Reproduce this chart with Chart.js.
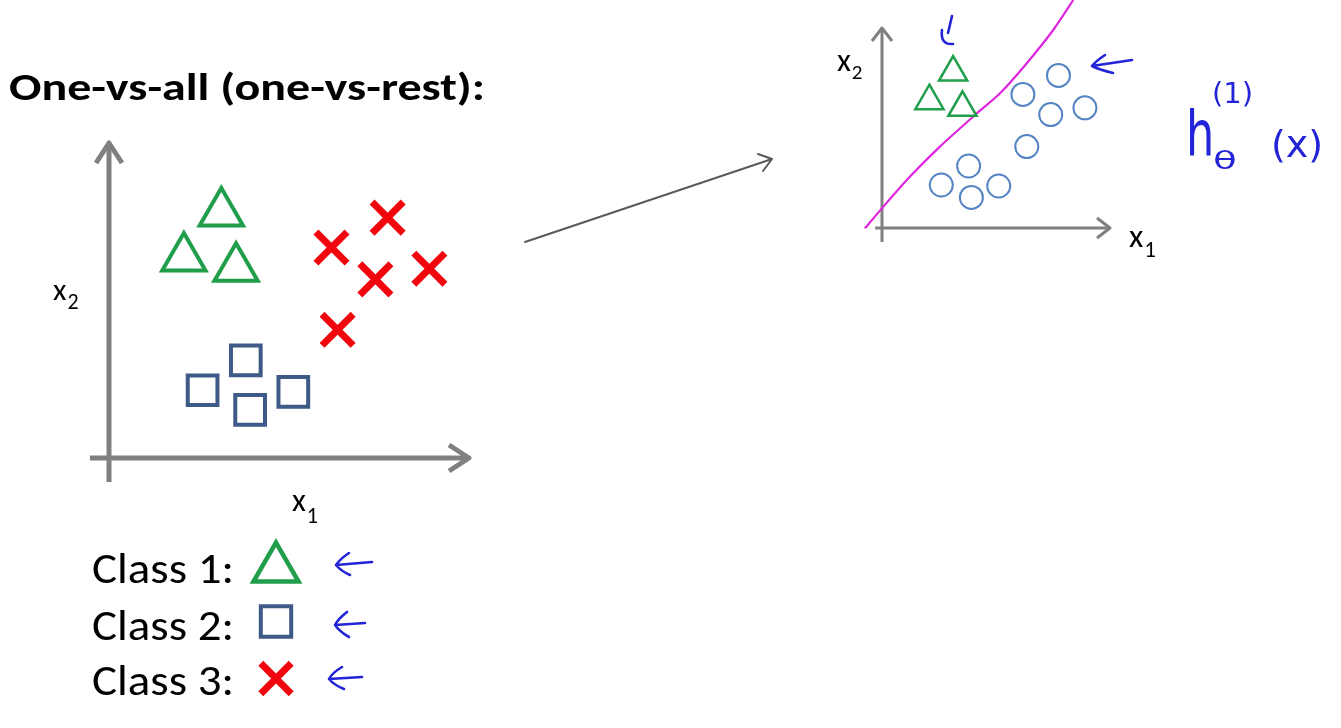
<!DOCTYPE html>
<html><head><meta charset="utf-8">
<script src="https://cdn.jsdelivr.net/npm/chart.js@4/dist/chart.umd.min.js"></script>
<style>
html,body{margin:0;padding:0;background:#fff;overflow:hidden}
#wrap{position:relative;width:1341px;height:728px;background:#fff}
#c{position:absolute;left:0;top:0}
#t{position:absolute;left:0;top:0}
</style></head><body>
<div id="wrap">
<canvas id="c" width="1341" height="728"></canvas>
<svg id="t" width="1341" height="728" xmlns="http://www.w3.org/2000/svg">
  <text x="9" y="100" font-family="Carlito, Lato" font-weight="bold" font-size="38" fill="#000" textLength="476" lengthAdjust="spacingAndGlyphs">One-vs-all (one-vs-rest):</text>
  <text x="53" y="300" font-family="Carlito, Lato" font-size="31" fill="#000">x<tspan dy="9" dx="1" font-size="22">2</tspan></text>
  <text x="292" y="511" font-family="Carlito, Lato" font-size="32" fill="#000">x<tspan dy="12" dx="1" font-size="22">1</tspan></text>
  <text x="837" y="71" font-family="Carlito, Lato" font-size="32" fill="#000">x<tspan dy="8" dx="1" font-size="21">2</tspan></text>
  <text x="1129" y="247" font-family="Carlito, Lato" font-size="33" fill="#000">x<tspan dy="10" dx="1" font-size="23">1</tspan></text>
  <g id="legendText" font-family="Carlito, Lato" font-size="44" fill="#000"></g>
  <g font-family="DejaVu Sans" fill="rgb(35,35,215)">
    <text transform="translate(1186,155) scale(0.72,1)" font-size="62">h</text>
    <text transform="translate(1213,169) scale(1.3,0.85)" font-size="30">θ</text>
    <text x="1212" y="103" font-size="29">(1)</text>
    <text x="1271" y="157" font-size="38">(x)</text>
  </g>
</svg>
</div>
<script>
// ---- data (arbitrary feature units; origin at the axes' crossing) ----
const classLabels = ['Class 1:', 'Class 2:', 'Class 3:'];
const class1X = [3.12, 2.08, 3.53];
const class1Y = [7.78, 6.35, 6.02];
const class2X = [3.80, 2.60, 3.92, 5.12];
const class2Y = [3.10, 2.15, 1.53, 2.10];
const class3X = [7.74, 6.18, 7.40, 8.90, 6.35];
const class3Y = [7.63, 6.68, 5.67, 6.01, 4.07];
const boundaryX = [-0.75, 0.06, 1.23, 2.54, 4.08, 5.18, 6.35, 7.51, 8.39];
const boundaryY = [-0.02, 1.07, 2.57, 4.07, 5.65, 6.74, 8.24, 9.90, 11.40];

const pts = (xs, ys) => xs.map((v, i) => ({x: v, y: ys[i]}));

// ---- layout (pixel origin and pixels per unit for each panel) ----
const W = 1341, H = 728;
const L = {ox: 109, oy: 458, ux: 36, uy: 31.5};
const R = {ox: 882, oy: 228, ux: 22.8, uy: 20};

const GREEN = 'rgb(32,158,74)', NAVY = 'rgb(62,90,135)', RED = 'rgb(240,6,12)';
const LBLUE = 'rgb(84,132,194)', MAGENTA = 'rgb(222,38,222)', GRAY = '#808080';
const PEN = 'rgb(35,35,215)';

const none = 'rgba(0,0,0,0)';
function ds(label, data, style, color, r, bw, xa, ya) {
  return {label, data, xAxisID: xa, yAxisID: ya, showLine: false, clip: false,
    pointStyle: style, pointRadius: r, pointHoverRadius: r,
    pointBorderColor: color, pointBackgroundColor: none, pointBorderWidth: bw,
    borderColor: color, backgroundColor: none};
}

const datasets = [
  ds(classLabels[0], pts(class1X, class1Y), 'triangle', GREEN, 25, 4, 'x', 'y'),
  ds(classLabels[1], pts(class2X, class2Y), 'rect', NAVY, 21, 4, 'x', 'y'),
  ds(classLabels[2], pts(class3X, class3Y), 'crossRot', RED, 22, 7, 'x', 'y'),
  ds('class 1', pts(class1X, class1Y), 'triangle', GREEN, 16.3, 2.5, 'x2', 'y2'),
  ds('rest', pts(class2X.concat(class3X), class2Y.concat(class3Y)), 'circle', LBLUE, 11.5, 2, 'x2', 'y2'),
  {label: 'boundary', data: pts(boundaryX, boundaryY), xAxisID: 'x2', yAxisID: 'y2',
   showLine: true, borderColor: MAGENTA, borderWidth: 2.2, pointRadius: 0, tension: 0.2, fill: false}
];

function axisArrows(ctx, xs, ys, o) {
  const px0 = xs.getPixelForValue(0), py0 = ys.getPixelForValue(0);
  const xa = xs.getPixelForValue(o.x0), xb = xs.getPixelForValue(o.x1);
  const ya = ys.getPixelForValue(o.y0), yb = ys.getPixelForValue(o.y1);
  ctx.save();
  ctx.strokeStyle = GRAY; ctx.lineWidth = o.w; ctx.lineJoin = 'round'; ctx.lineCap = 'butt';
  ctx.beginPath();
  ctx.moveTo(px0, ya); ctx.lineTo(px0, yb);
  ctx.moveTo(xa, py0); ctx.lineTo(xb, py0);
  ctx.stroke();
  ctx.beginPath();
  ctx.moveTo(px0 - o.side, yb + o.back); ctx.lineTo(px0, yb); ctx.lineTo(px0 + o.side, yb + o.back);
  ctx.moveTo(xb - o.back, py0 - o.side); ctx.lineTo(xb, py0); ctx.lineTo(xb - o.back, py0 + o.side);
  ctx.stroke();
  ctx.restore();
}

function penArrow(ctx, tail, tip, up, low, ctrlUp, ctrlLow) {
  ctx.beginPath();
  ctx.moveTo(tail[0], tail[1]); ctx.lineTo(tip[0], tip[1]);
  ctx.moveTo(up[0], up[1]); ctx.quadraticCurveTo(ctrlUp[0], ctrlUp[1], tip[0], tip[1]);
  ctx.quadraticCurveTo(ctrlLow[0], ctrlLow[1], low[0], low[1]);
  ctx.stroke();
}

const deco = {
  id: 'deco',
  beforeDatasetsDraw(chart) {
    const ctx = chart.ctx, s = chart.scales;
    axisArrows(ctx, s.x, s.y, {x0: -0.53, x1: 10, y0: -0.76, y1: 10, w: 5, back: 20, side: 13});
    axisArrows(ctx, s.x2, s.y2, {x0: -0.3, x1: 10, y0: -0.7, y1: 10, w: 3, back: 13, side: 10});
  },
  afterDatasetsDraw(chart) {
    const ctx = chart.ctx;
    // legend markers drawn with the datasets' own point styles
    const rows = [568.5, 621.5, 678.5];
    const radii = [26, 21.5, 21.5];
    for (let i = 0; i < 3; i++) {
      const d = chart.data.datasets[i];
      ctx.save();
      ctx.strokeStyle = d.pointBorderColor; ctx.fillStyle = none;
      ctx.lineWidth = i === 0 ? 4.5 : d.pointBorderWidth;
      Chart.helpers.drawPoint(ctx, {pointStyle: d.pointStyle, radius: radii[i], rotation: 0, borderWidth: ctx.lineWidth}, 276, rows[i]);
      ctx.restore();
    }
    // gray arrow between panels
    ctx.save();
    ctx.strokeStyle = '#5a5a5a'; ctx.lineWidth = 2; ctx.lineCap = 'round'; ctx.lineJoin = 'round';
    ctx.beginPath();
    ctx.moveTo(525, 242); ctx.lineTo(772, 159);
    ctx.moveTo(758, 154); ctx.lineTo(772, 159); ctx.lineTo(763, 171);
    ctx.stroke();
    ctx.restore();
    // handwritten pen marks
    ctx.save();
    ctx.strokeStyle = PEN; ctx.lineWidth = 2.6; ctx.lineCap = 'round'; ctx.lineJoin = 'round';
    penArrow(ctx, [372, 562], [336, 565], [349, 553], [350, 575], [340, 559], [341, 571]);
    penArrow(ctx, [365, 623], [335, 625], [347, 612], [349, 637], [338, 619], [340, 632]);
    penArrow(ctx, [362, 677], [329, 679], [342, 667], [344, 689], [332, 673], [334, 685]);
    penArrow(ctx, [1132, 60], [1092, 66], [1105, 55], [1113, 73], [1096, 61], [1100, 70]);
    ctx.beginPath();
    ctx.moveTo(952, 16); ctx.lineTo(948, 33);
    ctx.moveTo(942, 30); ctx.quadraticCurveTo(940, 45, 953, 44);
    ctx.stroke();
    ctx.restore();
  }
};

new Chart(document.getElementById('c'), {
  type: 'scatter',
  data: {datasets},
  options: {
    responsive: false, animation: false, devicePixelRatio: 1, events: [],
    layout: {padding: 0, autoPadding: false},
    plugins: {legend: {display: false}, tooltip: {enabled: false}},
    scales: {
      x: {type: 'linear', display: false, min: -L.ox / L.ux, max: (W - L.ox) / L.ux},
      y: {type: 'linear', display: false, min: (L.oy - H) / L.uy, max: L.oy / L.uy},
      x2: {type: 'linear', axis: 'x', position: 'top', display: false, min: -R.ox / R.ux, max: (W - R.ox) / R.ux},
      y2: {type: 'linear', axis: 'y', position: 'right', display: false, min: (R.oy - H) / R.uy, max: R.oy / R.uy}
    }
  },
  plugins: [deco]
});

// legend labels as real text
const g = document.getElementById('legendText');
const baselines = [583, 640, 695];
classLabels.forEach((t, i) => {
  const el = document.createElementNS('http://www.w3.org/2000/svg', 'text');
  el.setAttribute('x', 92); el.setAttribute('y', baselines[i]);
  el.setAttribute('textLength', 142); el.setAttribute('lengthAdjust', 'spacingAndGlyphs');
  el.textContent = t;
  g.appendChild(el);
});
</script>
</body></html>
